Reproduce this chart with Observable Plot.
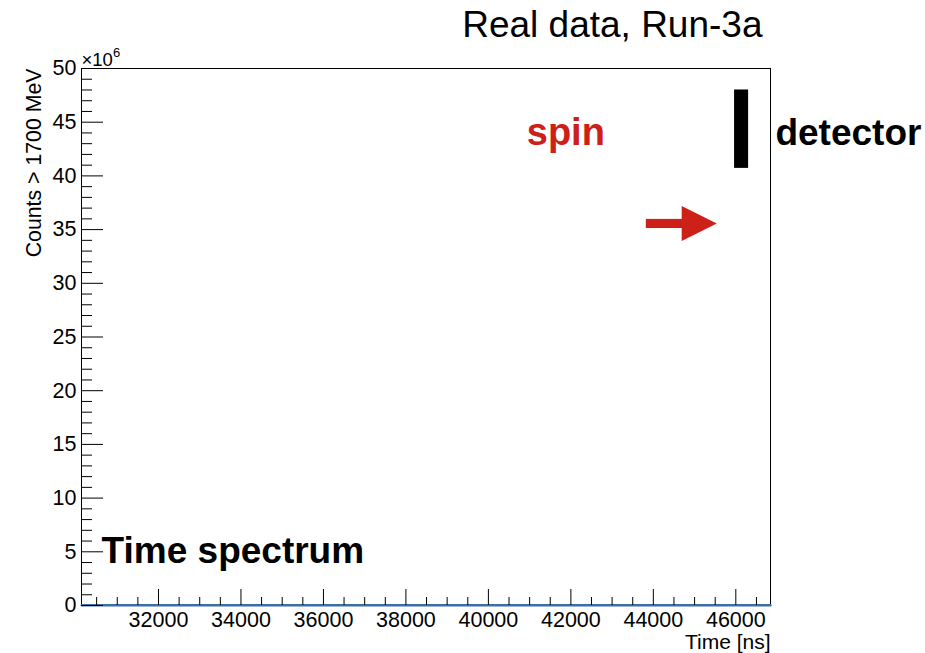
<!DOCTYPE html>
<html>
<head>
<meta charset="utf-8">
<script src="https://cdn.jsdelivr.net/npm/d3@7"></script>
<script src="https://cdn.jsdelivr.net/npm/@observablehq/plot@0.6"></script>
<style>
  html, body { margin: 0; padding: 0; background: #fff; }
  #chart svg { display: block; }
</style>
</head>
<body>
<div id="chart"></div>
<script>
// Positron time spectrum, late-time window (counts above 1700 MeV)
const binTimes = [30140, 31000, 32000, 33000, 34000, 35000, 36000, 37000, 38000,
                  39000, 40000, 41000, 42000, 43000, 44000, 45000, 46000, 46840];
const binCounts = [26000, 25000, 24000, 23200, 22500, 21700, 21000, 20200, 19700,
                   19000, 18500, 17700, 17200, 16700, 16200, 15700, 15200, 14900];

// Axis ticks
const xMajorTicks = [32000, 34000, 36000, 38000, 40000, 42000, 44000, 46000];
const xMinorTicks = [30500, 31000, 31500, 32500, 33000, 33500, 34500, 35000, 35500,
                     36500, 37000, 37500, 38500, 39000, 39500, 40500, 41000, 41500,
                     42500, 43000, 43500, 44500, 45000, 45500, 46500];
const yMajorTicks = [0, 5, 10, 15, 20, 25, 30, 35, 40, 45, 50];
const yMinorTicks = [1, 2, 3, 4, 6, 7, 8, 9, 11, 12, 13, 14, 16, 17, 18, 19, 21, 22, 23, 24,
                     26, 27, 28, 29, 31, 32, 33, 34, 36, 37, 38, 39, 41, 42, 43, 44, 46, 47, 48, 49];
const yUnit = 1e6;

// Domain of the time axis [ns]
const timeRange = [30133, 46841];

// Schematic of the detector and the spin direction (data units)
const detectorBar = [{x1: 45970, x2: 46310, y1: 40.7e6, y2: 48.0e6}];
const spinShaft = [{x1: 43830, x2: 44730, y1: 35.1e6, y2: 35.95e6}];
const spinHead = [{x: 44700, lo: 33.9e6, hi: 37.15e6}, {x: 45550, lo: 35.53e6, hi: 35.53e6}];
const spinLabel = [{x: 40930, y: 42.85e6, text: "spin"}];
const detectorLabel = [{x: 46960, y: 42.85e6, text: "detector"}];
const panelLabel = [{x: 30620, y: 3.95e6, text: "Time spectrum"}];

const red = "#cc2019";
const font = "'Liberation Sans', Arial, Helvetica, sans-serif";

const spectrum = binTimes.map((t, i) => ({t, c: binCounts[i]}));

const chart = Plot.plot({
  width: 925,
  height: 653,
  marginLeft: 81,
  marginRight: 155,
  marginTop: 68,
  marginBottom: 48,
  style: {fontFamily: font, fontSize: "21px", color: "#000", background: "#fff"},
  x: {domain: timeRange},
  y: {domain: [0, 50 * yUnit]},
  marks: [
    Plot.frame({stroke: "#000", strokeWidth: 1}),
    // histogram line
    Plot.line(spectrum, {x: "t", y: "c", stroke: "#3b6fa8", strokeWidth: 2.5}),
    // y axis: inward ticks
    Plot.axisY(yMajorTicks.map(d => d * yUnit), {
      tickSize: -22, tickPadding: 27, tickFormat: d => String(d / yUnit),
      label: null, fontSize: 21.5, stroke: "#000", strokeWidth: 1
    }),
    Plot.axisY(yMinorTicks.map(d => d * yUnit), {
      tickSize: -11, tickFormat: () => "", label: null, stroke: "#000", strokeWidth: 1
    }),
    // x axis: inward ticks
    Plot.axisX(xMajorTicks, {
      tickSize: -16, tickPadding: 22, tickFormat: d => String(d),
      label: null, fontSize: 21.5, stroke: "#000", strokeWidth: 1
    }),
    Plot.axisX(xMinorTicks, {
      tickSize: -8, tickFormat: () => "", label: null, stroke: "#000", strokeWidth: 1
    }),
    // axis titles
    Plot.text(["Counts > 1700 MeV"], {
      frameAnchor: "top-left", dx: -41, rotate: -90, textAnchor: "end",
      lineAnchor: "bottom", fontSize: 21.3, fill: "#000"
    }),
    Plot.text(["Time [ns]"], {
      frameAnchor: "bottom-right", dy: 43, textAnchor: "end",
      lineAnchor: "bottom", fontSize: 21, fill: "#000"
    }),
    Plot.text(["×10"], {
      frameAnchor: "top-left", dx: 0, dy: -3, textAnchor: "start",
      lineAnchor: "bottom", fontSize: 18.5, fill: "#000"
    }),
    Plot.text(["6"], {
      frameAnchor: "top-left", dx: 31.5, dy: -12, textAnchor: "start",
      lineAnchor: "bottom", fontSize: 13, fill: "#000"
    }),
    // heading
    Plot.text(["Real data, Run-3a"], {
      frameAnchor: "top-right", dx: -8, dy: -32, textAnchor: "end",
      lineAnchor: "bottom", fontSize: 37, fill: "#000"
    }),
    // schematic annotations
    Plot.rect(detectorBar, {x1: "x1", x2: "x2", y1: "y1", y2: "y2", fill: "#000"}),
    Plot.rect(spinShaft, {x1: "x1", x2: "x2", y1: "y1", y2: "y2", fill: red}),
    Plot.areaY(spinHead, {x: "x", y1: "lo", y2: "hi", fill: red}),
    Plot.text(spinLabel, {x: "x", y: "y", text: "text", textAnchor: "start", lineAnchor: "bottom",
      fontSize: 38, fontWeight: "bold", fill: red}),
    Plot.text(detectorLabel, {x: "x", y: "y", text: "text", textAnchor: "start", lineAnchor: "bottom",
      fontSize: 37, fontWeight: "bold", fill: "#000"}),
    Plot.text(panelLabel, {x: "x", y: "y", text: "text", textAnchor: "start", lineAnchor: "bottom",
      fontSize: 37, fontWeight: "bold", fill: "#000"})
  ]
});

document.getElementById("chart").appendChild(chart);
</script>
</body>
</html>
